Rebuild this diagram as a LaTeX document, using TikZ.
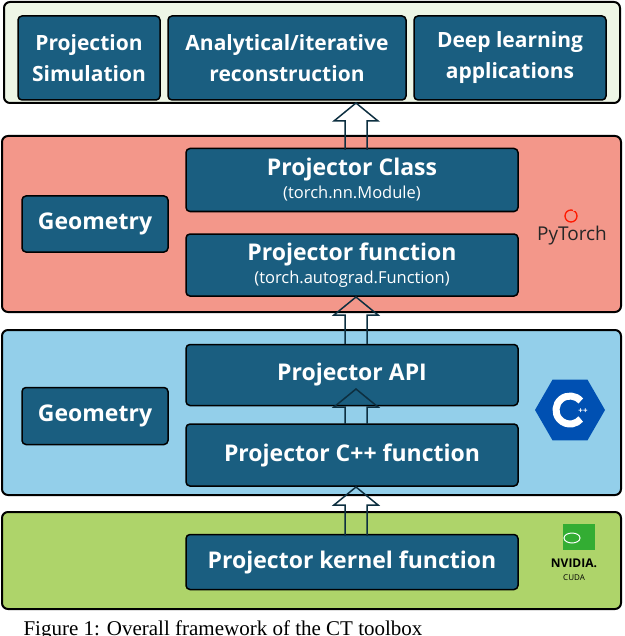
\documentclass[tikz,border=0pt]{standalone}
\usepackage{fontspec}
\setmainfont{Open Sans}
\newfontfamily\capfont{Liberation Serif}
\usetikzlibrary{calc,shapes.geometric}
\definecolor{boxblue}{HTML}{1A5E80}
\definecolor{topbg}{HTML}{EEF6E6}
\definecolor{pinkbg}{HTML}{F3978A}
\definecolor{bluebg}{HTML}{93CFEA}
\definecolor{greenbg}{HTML}{AED46A}
\newcommand{\subtxt}{\mdseries\fontsize{16.5}{18}\selectfont}
\tikzset{
  panel/.style={draw=black, line width=2pt, rounded corners=6pt},
  blk/.style={draw=black, line width=1.5pt, rounded corners=4pt, fill=boxblue,
    text=white, font=\bfseries\fontsize{23}{31}\selectfont, align=center, inner sep=0pt},
  barrow/.style={draw=boxblue!50!black, line width=1.5pt, fill=none}
}
% block arrow from (#1) up to (#2)
\newcommand{\blockarrow}[2]{%
  \draw[barrow] let \p1=(#1), \p2=(#2) in
    (\x1-11,\y1) -- (\x1-11,\y2-18) -- (\x1-22,\y2-18) -- (\x1,\y2)
    -- (\x1+22,\y2-18) -- (\x1+11,\y2-18) -- (\x1+11,\y1);}
\begin{document}
\begin{tikzpicture}[x=1pt,y=-1pt]
\useasboundingbox (0,0) rectangle (624,636);
% panels
\draw[panel, fill=topbg] (4,2) rectangle (620,103);
\draw[panel, fill=pinkbg] (2,136) rectangle (621,312);
\draw[panel, fill=bluebg] (2,330) rectangle (621,495);
\draw[panel, fill=greenbg] (2,512) rectangle (621,609);
% top row
\node[blk, font=\bfseries\fontsize{21}{31}\selectfont, minimum width=142pt, minimum height=84pt] (sim) at (89,58) {Projection\\Simulation};
\node[blk, font=\bfseries\fontsize{21}{31}\selectfont, minimum width=238pt, minimum height=84pt] (rec) at (287,58) {Analytical/iterative\\reconstruction};
\node[blk, font=\bfseries\fontsize{21}{31}\selectfont, minimum width=192pt, minimum height=84pt] (dl) at (510,58) {Deep learning\\applications};
% pytorch layer
\node[blk, minimum width=146pt, minimum height=56pt] (geo1) at (95,224) {Geometry};
\node[blk, minimum width=332pt, minimum height=63pt] (pc) at (352,180) {Projector Class\\[-8pt]{\subtxt (torch.nn.Module)}};
\node[blk, minimum width=332pt, minimum height=62pt] (pf) at (352,265) {Projector function\\[-8pt]{\subtxt (torch.autograd.Function)}};
% c++ layer
\node[blk, minimum width=146pt, minimum height=57pt] (geo2) at (95,416) {Geometry};
\node[blk, minimum width=332pt, minimum height=61pt] (api) at (352,375) {Projector API};
\node[blk, minimum width=332pt, minimum height=62pt] (cpp) at (352,455) {Projector C++ function};
% cuda layer
\node[blk, minimum width=332pt, minimum height=55pt] (ker) at (352,562) {Projector kernel function};
% block arrows
\coordinate (a1s) at (356,150); \coordinate (a1e) at (356,103);
\blockarrow{a1s}{a1e}
\coordinate (a2s) at (356,344); \coordinate (a2e) at (356,297);
\blockarrow{a2s}{a2e}
\coordinate (a3s) at (356,424); \coordinate (a3e) at (356,389);
\blockarrow{a3s}{a3e}
\coordinate (a4s) at (356,536); \coordinate (a4e) at (356,487);
\blockarrow{a4s}{a4e}
% pytorch logo
\draw[red!80!orange, line width=1.3pt] (571,216) circle (6pt);
\fill[pinkbg] (573,207) rectangle (580,211);
\node[font=\fontsize{19}{21}\selectfont, text=black!85] (pyt) at (572,236) {PyTorch};
% c++ logo
\node[regular polygon, regular polygon sides=6, fill=blue!55!cyan!70!black, minimum size=70pt, inner sep=0pt] (hex) at (570,410) {};
\draw[white, line width=7pt] ($(hex.center)+(40:14pt)$) arc (40:320:14pt);
\node[text=white, font=\bfseries\fontsize{8}{9}\selectfont] (pp) at (583,411) {++};
% nvidia logo
\fill[green!60!black!80] (563,524) rectangle (595,550);
\draw[white, line width=1pt] (572,538) ellipse (8pt and 5pt);
\node[font=\bfseries\fontsize{12}{13}\selectfont] (nv) at (574,563) {NVIDIA.};
\node[font=\fontsize{8}{9}\selectfont] (cuda) at (574,578) {CUDA};
% caption
\node[font=\capfont\fontsize{21}{24}\selectfont, anchor=north west] (cap) at (20,617) {Figure 1: Overall framework of the CT toolbox};
\end{tikzpicture}
\end{document}
